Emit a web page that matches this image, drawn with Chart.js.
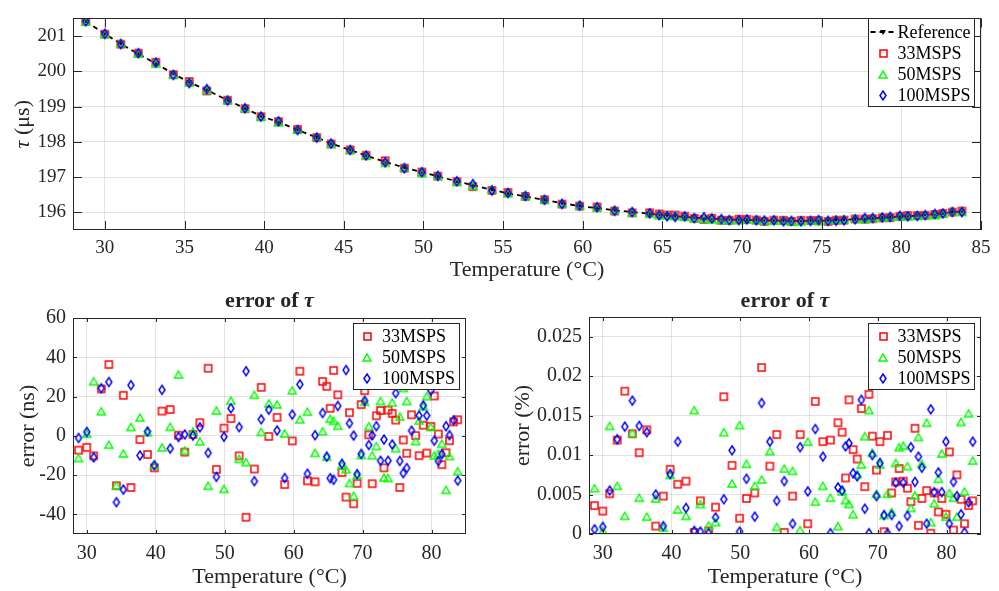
<!DOCTYPE html>
<html>
<head>
<meta charset="utf-8">
<script src="https://cdn.jsdelivr.net/npm/chart.js@4.4.1/dist/chart.umd.min.js"></script>
<style>
  html, body { margin: 0; padding: 0; background: #fff; }
  #wrap { position: relative; width: 999px; height: 591px; overflow: hidden; }
  .pane { position: absolute; }
</style>
</head>
<body>
<div id="wrap">
  <div class="pane" style="left:0;top:0"><canvas id="tauChart" width="999" height="285"></canvas></div>
  <div class="pane" style="left:0;top:285px"><canvas id="nsChart" width="500" height="306"></canvas></div>
  <div class="pane" style="left:500px;top:285px"><canvas id="pctChart" width="499" height="306"></canvas></div>
</div>
<script>
// ---------------- data ----------------
const temps = [28.8, 30.0, 31.0, 32.1, 33.2, 34.3, 35.3, 36.4, 37.7, 38.8, 39.8, 40.9, 42.1, 43.3, 44.2, 45.4, 46.4,
  47.6, 48.8, 49.9, 50.9, 52.1, 53.1, 54.3, 55.3, 56.4, 57.6, 58.7, 59.8, 60.9, 62.0, 63.1, 64.2, 64.8, 65.3, 65.8,
  66.4, 67.0, 67.6, 68.1, 68.7, 69.2, 69.8, 70.3, 70.9, 71.4, 72.0, 72.6, 73.1, 73.7, 74.3, 74.8, 75.4, 75.9, 76.4,
  77.1, 77.7, 78.2, 78.8, 79.3, 79.9, 80.4, 81.0, 81.5, 82.1, 82.6, 83.2, 83.8];

// tau in us
const tauRef = [201.42, 201.06, 200.78, 200.49, 200.22, 199.93, 199.69, 199.47, 199.18, 198.95, 198.73, 198.56,
  198.34, 198.12, 197.95, 197.77, 197.61, 197.43, 197.27, 197.14, 197.02, 196.88, 196.77, 196.64, 196.54, 196.45,
  196.35, 196.26, 196.18, 196.12, 196.06, 196.01, 195.96, 195.93, 195.91, 195.89, 195.87, 195.85, 195.83, 195.82,
  195.81, 195.80, 195.79, 195.78, 195.78, 195.77, 195.77, 195.76, 195.76, 195.76, 195.76, 195.76, 195.77, 195.78,
  195.79, 195.80, 195.81, 195.83, 195.84, 195.86, 195.88, 195.89, 195.91, 195.93, 195.95, 195.97, 196.00, 196.03];
const tau33 = [201.413, 201.054, 200.770, 200.514, 200.256, 199.905, 199.711, 199.444, 199.178, 198.941, 198.714,
  198.573, 198.353, 198.120, 197.942, 197.771, 197.617, 197.464, 197.253, 197.144, 197.029, 196.870, 196.729,
  196.623, 196.565, 196.450, 196.359, 196.235, 196.177, 196.153, 196.037, 195.987, 195.988, 195.955, 195.924,
  195.923, 195.891, 195.831, 195.799, 195.832, 195.775, 195.776, 195.806, 195.803, 195.781, 195.746, 195.780,
  195.773, 195.744, 195.773, 195.771, 195.768, 195.744, 195.778, 195.781, 195.811, 195.810, 195.820, 195.845,
  195.851, 195.885, 195.910, 195.911, 195.915, 195.941, 195.968, 196.007, 196.038];
const tau50 = [201.409, 201.061, 200.808, 200.503, 200.216, 199.905, 199.681, 199.475, 199.189, 198.952, 198.715,
  198.554, 198.345, 198.151, 197.943, 197.772, 197.607, 197.405, 197.283, 197.113, 197.038, 196.868, 196.757,
  196.661, 196.542, 196.467, 196.366, 196.261, 196.203, 196.128, 196.072, 196.001, 195.962, 195.919, 195.919,
  195.898, 195.875, 195.835, 195.813, 195.796, 195.780, 195.780, 195.780, 195.797, 195.785, 195.760, 195.765,
  195.778, 195.739, 195.739, 195.777, 195.754, 195.780, 195.804, 195.808, 195.828, 195.807, 195.838, 195.855,
  195.880, 195.885, 195.880, 195.901, 195.926, 195.923, 195.960, 196.030, 196.012];
const tau100 = [201.419, 201.062, 200.769, 200.514, 200.247, 199.896, 199.663, 199.496, 199.170, 198.952, 198.715,
  198.583, 198.334, 198.119, 197.951, 197.770, 197.614, 197.421, 197.249, 197.140, 197.034, 196.884, 196.803,
  196.617, 196.548, 196.463, 196.353, 196.239, 196.191, 196.146, 196.041, 196.010, 195.972, 195.919, 195.888,
  195.868, 195.885, 195.836, 195.864, 195.826, 195.810, 195.781, 195.781, 195.798, 195.775, 195.770, 195.775,
  195.747, 195.758, 195.747, 195.756, 195.782, 195.757, 195.761, 195.774, 195.803, 195.841, 195.840, 195.856,
  195.870, 195.903, 195.888, 195.897, 195.921, 195.955, 195.970, 196.008, 196.007];

// error in ns
const err33 = [-7.3, -5.9, -10.2, 23.9, 36.3, -25.4, 20.6, -26.3, -1.9, -9.5, -16.3, 12.6, 13.4, 0.3, -8.3, 0.7,
  6.7, 34.4, -17.1, 3.9, 8.8, -10.2, -41.5, -16.9, 24.7, -0.3, 9.4, -24.8, -2.6, 32.9, -22.9, -23.4, 27.7, 25.2,
  14.0, 33.3, 20.9, -18.7, -31.2, 11.8, -34.6, -24.2, 15.9, 23.0, 0.5, -24.4, 10.2, 12.9, -16.3, 13.1, 11.4, 8.0,
  -26.3, -2.1, -8.9, 10.7, 0.1, -10.1, 5.4, -8.8, 4.8, 20.3, 0.9, -14.7, -8.6, -2.5, 7.1, 8.2];
const err50 = [-11.3, 1.1, 27.8, 12.5, -4.5, -25.3, -9.0, 4.5, 9.3, 1.8, -14.9, -5.9, 4.6, 31.2, -7.4, 2.2, -2.8,
  -25.4, 12.9, -27.0, 17.9, -11.7, -13.4, 20.9, 2.0, 16.5, 16.0, 1.2, 23.2, 8.4, 12.3, -8.7, 2.3, -10.6, 8.7, 7.7,
  5.1, -15.0, -17.0, -24.0, -30.5, -20.0, -9.8, 17.3, 4.9, -9.9, -5.2, 17.7, -21.2, -21.5, 17.0, -6.3, 9.8, 24.4,
  17.7, 27.5, -2.7, 7.8, 15.0, 20.2, 4.5, -10.0, -9.1, -4.0, -27.5, -10.3, 30.0, -18.0];
const err100 = [-1.1, 2.0, -11.0, 24.2, 27.4, -33.8, -27.4, 25.8, -10.0, 2.2, -15.0, 23.4, -6.5, -0.6, 0.7, 0.1,
  4.3, -8.7, -20.9, -0.5, 14.0, 4.4, 32.9, -23.1, 8.4, 13.3, 2.7, -21.5, 10.8, 26.2, -19.3, 0.3, 11.6, -10.6,
  -21.6, -22.4, 15.2, -14.2, 33.5, 6.4, 0.1, -19.5, -9.2, 17.8, -4.7, 0.2, 4.9, -12.7, -1.9, -12.7, -4.4, 21.7,
  -12.8, -19.0, -16.4, 2.6, 31.0, 10.3, 15.5, 10.3, 23.0, -2.5, -12.9, -9.3, 4.9, 0.3, 7.9, -22.8];

// error in %
const pct33 = [0.0036, 0.0029, 0.0051, 0.0119, 0.0181, 0.0127, 0.0103, 0.0132, 0.0010, 0.0048, 0.0082, 0.0063,
  0.0067, 0.0002, 0.0042, 0.0004, 0.0034, 0.0174, 0.0087, 0.0020, 0.0045, 0.0052, 0.0211, 0.0086, 0.0126, 0.0002,
  0.0048, 0.0126, 0.0013, 0.0168, 0.0117, 0.0119, 0.0141, 0.0129, 0.0071, 0.0170, 0.0107, 0.0095, 0.0159, 0.0060,
  0.0177, 0.0124, 0.0081, 0.0117, 0.0003, 0.0125, 0.0052, 0.0066, 0.0083, 0.0067, 0.0058, 0.0041, 0.0134, 0.0011,
  0.0045, 0.0055, 0.0001, 0.0052, 0.0028, 0.0045, 0.0025, 0.0104, 0.0005, 0.0075, 0.0044, 0.0013, 0.0036, 0.0042];
const pct50 = [0.0058, 0.0004, 0.0137, 0.0061, 0.0023, 0.0128, 0.0046, 0.0022, 0.0045, 0.0008, 0.0075, 0.0031,
  0.0023, 0.0157, 0.0038, 0.0011, 0.0015, 0.0129, 0.0064, 0.0138, 0.0089, 0.0061, 0.0069, 0.0105, 0.0009, 0.0083,
  0.0080, 0.0005, 0.0117, 0.0041, 0.0061, 0.0046, 0.0010, 0.0054, 0.0043, 0.0038, 0.0025, 0.0076, 0.0088, 0.0124,
  0.0157, 0.0103, 0.0051, 0.0088, 0.0024, 0.0051, 0.0028, 0.0090, 0.0110, 0.0112, 0.0086, 0.0033, 0.0049, 0.0123,
  0.0089, 0.0141, 0.0015, 0.0039, 0.0070, 0.0102, 0.0022, 0.0052, 0.0046, 0.0022, 0.0142, 0.0054, 0.0153, 0.0093];
const pct100 = [0.0006, 0.0009, 0.0055, 0.0120, 0.0136, 0.0169, 0.0137, 0.0129, 0.0050, 0.0010, 0.0076, 0.0117,
  0.0033, 0.0004, 0.0003, 0.0001, 0.0021, 0.0044, 0.0106, 0.0003, 0.0070, 0.0022, 0.0166, 0.0117, 0.0042, 0.0067,
  0.0013, 0.0110, 0.0054, 0.0133, 0.0098, 0.0001, 0.0059, 0.0055, 0.0111, 0.0115, 0.0077, 0.0073, 0.0170, 0.0032,
  0.0001, 0.0100, 0.0048, 0.0090, 0.0024, 0.0001, 0.0024, 0.0065, 0.0010, 0.0065, 0.0023, 0.0110, 0.0066, 0.0098,
  0.0084, 0.0013, 0.0158, 0.0053, 0.0078, 0.0053, 0.0117, 0.0013, 0.0066, 0.0048, 0.0025, 0.0002, 0.0040, 0.0117];

const seriesNames = ['Reference', '33MSPS', '50MSPS', '100MSPS'];
const tauXTicks = [30, 35, 40, 45, 50, 55, 60, 65, 70, 75, 80, 85];
const tauYTicks = [196, 197, 198, 199, 200, 201];
const errXTicks = [30, 40, 50, 60, 70, 80];
const nsYTicks = [-40, -20, 0, 20, 40, 60];
const pctYTicks = [0, 0.005, 0.01, 0.015, 0.02, 0.025];

// ---------------- styling ----------------
const FONT = 'Liberation Serif';
const INK = '#262626';
Chart.defaults.font.family = FONT;
Chart.defaults.color = INK;

function marker(kind, color, w, h) {
  const c = document.createElement('canvas');
  c.width = w + 4; c.height = h + 4;
  const g = c.getContext('2d');
  const cx = c.width / 2, cy = c.height / 2;
  g.strokeStyle = color; g.fillStyle = color; g.lineWidth = 1.5;
  g.beginPath();
  if (kind === 'square') {
    g.rect(cx - w / 2, cy - h / 2, w, h);
  } else if (kind === 'tri') {
    g.moveTo(cx, cy - h / 2); g.lineTo(cx + w / 2, cy + h / 2); g.lineTo(cx - w / 2, cy + h / 2); g.closePath();
  } else if (kind === 'diamond') {
    g.moveTo(cx, cy - h / 2); g.lineTo(cx + w / 2, cy); g.lineTo(cx, cy + h / 2); g.lineTo(cx - w / 2, cy); g.closePath();
  } else {
    g.moveTo(cx - w / 2, cy - h / 2); g.lineTo(cx + w / 2, cy - h / 2); g.lineTo(cx, cy + h / 2); g.closePath();
  }
  if (kind === 'down') g.fill(); else g.stroke();
  return c;
}
const mkRed = marker('square', '#ff0000', 7, 7);
const mkGreen = marker('tri', '#00ff00', 8, 7);
const mkBlue = marker('diamond', '#0000ff', 6, 9);
const mkRef = marker('down', '#000000', 6, 5);

const pts = (ys) => temps.map((t, i) => ({ x: t, y: ys[i] }));

function richText(ctx, parts, x, y, rot) {
  ctx.save();
  ctx.translate(x, y);
  if (rot) ctx.rotate(rot);
  const widths = parts.map(p => { ctx.font = p[1]; return ctx.measureText(p[0]).width; });
  let cx = -widths.reduce((a, b) => a + b, 0) / 2;
  ctx.textBaseline = 'middle';
  ctx.textAlign = 'left';
  ctx.fillStyle = INK;
  parts.forEach((p, i) => { ctx.font = p[1]; ctx.fillText(p[0], cx, 0); cx += widths[i]; });
  ctx.restore();
}

// box, inner ticks, labels and legend in the matlab look
function decor(cfg) {
  return {
    id: 'decor',
    afterDraw(chart) {
      const ctx = chart.ctx, a = chart.chartArea;
      const xs = chart.scales.x, ys = chart.scales.y;
      ctx.save();
      ctx.strokeStyle = INK;
      ctx.lineWidth = 1;
      ctx.beginPath();
      xs.ticks.forEach(t => {
        const p = Math.round(xs.getPixelForValue(t.value)) + 0.5;
        ctx.moveTo(p, a.bottom); ctx.lineTo(p, a.bottom - cfg.tick);
        ctx.moveTo(p, a.top); ctx.lineTo(p, a.top + cfg.tick);
      });
      ys.ticks.forEach(t => {
        const p = Math.round(ys.getPixelForValue(t.value)) + 0.5;
        ctx.moveTo(a.left, p); ctx.lineTo(a.left + cfg.tick, p);
        ctx.moveTo(a.right, p); ctx.lineTo(a.right - cfg.tick, p);
      });
      ctx.stroke();
      ctx.strokeRect(Math.round(a.left) + 0.5, Math.round(a.top) + 0.5,
        Math.round(a.right - a.left) - 1, Math.round(a.bottom - a.top) - 1);

      if (cfg.title) richText(ctx, cfg.title, (a.left + a.right) / 2, cfg.titleY);
      richText(ctx, cfg.xTitle, (a.left + a.right) / 2, cfg.xTitleY);
      richText(ctx, cfg.yTitle, cfg.yTitleX, (a.top + a.bottom) / 2, -Math.PI / 2);

      // legend
      const L = cfg.legend;
      ctx.fillStyle = '#fff';
      ctx.fillRect(L.x, L.y, L.w, L.h);
      ctx.strokeStyle = INK;
      ctx.strokeRect(L.x + 0.5, L.y + 0.5, L.w, L.h);
      ctx.font = '18px ' + FONT;
      ctx.textBaseline = 'middle';
      ctx.textAlign = 'left';
      L.rows.forEach((r, i) => {
        const y = L.rowY[i];
        if (r.line) {
          ctx.save();
          ctx.strokeStyle = '#000';
          ctx.lineWidth = 1.8;
          ctx.setLineDash([5, 4]);
          ctx.beginPath();
          ctx.moveTo(L.mx - 12.5, y); ctx.lineTo(L.mx + 12.5, y);
          ctx.stroke();
          ctx.restore();
        }
        ctx.drawImage(r.img, Math.round(L.mx - r.img.width / 2), Math.round(y - r.img.height / 2));
        ctx.fillStyle = '#000';
        ctx.fillText(r.text, L.tx, y + 1);
      });
      ctx.restore();
    }
  };
}

function axisX(min, max, ticks, size, pad, height) {
  return {
    type: 'linear', min: min, max: max,
    afterBuildTicks: s => { s.ticks = ticks.map(v => ({ value: v })); },
    afterFit: s => { s.height = height; },
    ticks: { autoSkip: false, maxRotation: 0, padding: pad, color: INK, font: { size: size } },
    grid: { color: 'rgba(0,0,0,0.11)', drawTicks: false },
    border: { display: false }
  };
}
function axisY(min, max, ticks, size, width) {
  return {
    type: 'linear', min: min, max: max,
    afterBuildTicks: s => { s.ticks = ticks.map(v => ({ value: v })); },
    afterFit: s => { s.width = width; },
    ticks: { autoSkip: false, padding: 7, color: INK, font: { size: size }, callback: v => String(v) },
    grid: { color: 'rgba(0,0,0,0.11)', drawTicks: false },
    border: { display: false }
  };
}

function scatterSet(label, data, img, order) {
  return { label: label, data: data, pointStyle: img, pointRadius: 4, showLine: false, order: order };
}

const baseOpts = { responsive: false, animation: false, events: [],
  plugins: { legend: { display: false }, tooltip: { enabled: false } } };

const labelFont = '22px ' + FONT;
const legendRows = [
  { img: mkRed, text: seriesNames[1] },
  { img: mkGreen, text: seriesNames[2] },
  { img: mkBlue, text: seriesNames[3] }
];

// ---------------- tau vs temperature ----------------
new Chart(document.getElementById('tauChart'), {
  type: 'scatter',
  data: {
    datasets: [
      { label: seriesNames[0], data: pts(tauRef), showLine: true, borderColor: '#000', borderWidth: 1.8,
        borderDash: [5, 4], pointStyle: mkRef, pointRadius: 3, order: 4 },
      scatterSet(seriesNames[1], pts(tau33), mkRed, 3),
      scatterSet(seriesNames[2], pts(tau50), mkGreen, 2),
      scatterSet(seriesNames[3], pts(tau100), mkBlue, 1)
    ]
  },
  options: Object.assign({}, baseOpts, {
    layout: { padding: { left: 0, top: 12, right: 18, bottom: 0 } },
    scales: { x: axisX(28, 85, tauXTicks, 19, 7, 55), y: axisY(195.5, 201.5, tauYTicks, 19, 73) }
  }),
  plugins: [decor({
    tick: 9,
    xTitle: [['Temperature (°C)', labelFont]], xTitleY: 270,
    yTitle: [['τ', 'italic ' + labelFont], [' (μs)', labelFont]], yTitleX: 23,
    legend: { x: 868, y: 18, w: 106, h: 88, mx: 883, tx: 897.5, rowY: [32, 53, 74, 95],
      rows: [{ img: mkRef, text: seriesNames[0], line: true }].concat(legendRows) }
  })]
});

// ---------------- error in ns ----------------
new Chart(document.getElementById('nsChart'), {
  type: 'scatter',
  data: {
    datasets: [
      scatterSet(seriesNames[1], pts(err33), mkRed, 3),
      scatterSet(seriesNames[2], pts(err50), mkGreen, 2),
      scatterSet(seriesNames[3], pts(err100), mkBlue, 1)
    ]
  },
  options: Object.assign({}, baseOpts, {
    layout: { padding: { left: 0, top: 33, right: 34, bottom: 0 } },
    scales: { x: axisX(28, 85, errXTicks, 20, 8, 57), y: axisY(-50, 60, nsYTicks, 20, 73) }
  }),
  plugins: [decor({
    tick: 4,
    title: [['error of ', 'bold ' + labelFont], ['τ', 'bold italic ' + labelFont]], titleY: 16,
    xTitle: [['Temperature (°C)', labelFont]], xTitleY: 292,
    yTitle: [['error (ns)', labelFont]], yTitleX: 28,
    legend: { x: 353, y: 38, w: 106, h: 66, mx: 367, tx: 382, rowY: [51, 72, 93], rows: legendRows }
  })]
});

// ---------------- error in % ----------------
new Chart(document.getElementById('pctChart'), {
  type: 'scatter',
  data: {
    datasets: [
      scatterSet(seriesNames[1], pts(pct33), mkRed, 3),
      scatterSet(seriesNames[2], pts(pct50), mkGreen, 2),
      scatterSet(seriesNames[3], pts(pct100), mkBlue, 1)
    ]
  },
  options: Object.assign({}, baseOpts, {
    layout: { padding: { left: 0, top: 32, right: 18, bottom: 0 } },
    scales: { x: axisX(28, 85, errXTicks, 20, 8, 57), y: axisY(0, 0.0275, pctYTicks, 20, 89) }
  }),
  plugins: [decor({
    tick: 4,
    title: [['error of ', 'bold ' + labelFont], ['τ', 'bold italic ' + labelFont]], titleY: 16,
    xTitle: [['Temperature (°C)', labelFont]], xTitleY: 292,
    yTitle: [['error (%)', labelFont]], yTitleX: 23,
    legend: { x: 368, y: 38, w: 106, h: 66, mx: 383, tx: 397.5, rowY: [51, 72, 93], rows: legendRows }
  })]
});
</script>
</body>
</html>
